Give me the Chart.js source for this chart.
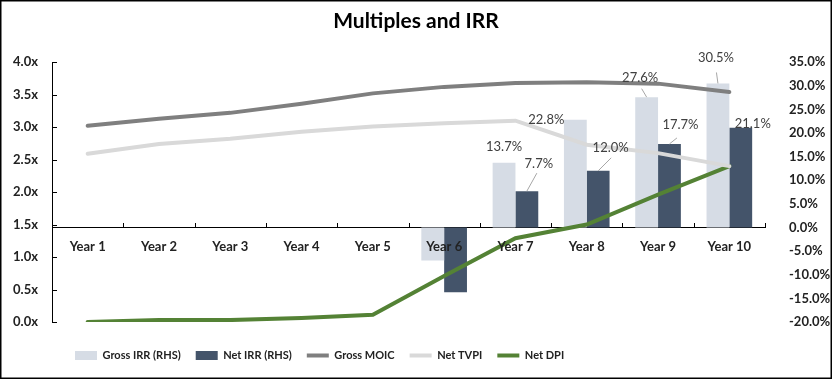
<!DOCTYPE html>
<html><head><meta charset="utf-8">
<script src="https://cdn.jsdelivr.net/npm/chart.js@4"></script>
<style>html,body{margin:0;padding:0;background:#fff}#wrap{width:832px;height:379px;position:relative}</style>
</head><body><div id="wrap"><canvas id="c" width="832" height="379"></canvas></div>
<script>
const years = ['Year 1','Year 2','Year 3','Year 4','Year 5','Year 6','Year 7','Year 8','Year 9','Year 10'];
const grossIRR = [null,null,null,null,null,-7.0,13.7,22.8,27.6,30.5];
const netIRR = [null,null,null,null,null,-13.7,7.7,12.0,17.7,21.1];
const grossMOIC = [3.02,3.13,3.22,3.36,3.52,3.62,3.68,3.69,3.67,3.54];
const netTVPI = [2.59,2.74,2.82,2.93,3.01,3.06,3.10,2.73,2.60,2.40];
const netDPI = [0.00,0.03,0.03,0.06,0.11,0.71,1.29,1.50,1.96,2.40];
const leftTicks = [0,0.5,1,1.5,2,2.5,3,3.5,4];
const rightTicks = [-20,-15,-10,-5,0,5,10,15,20,25,30,35];
const labelledYears = ['Year 7','Year 8','Year 9','Year 10'];

const FONT = 'Lato, "Open Sans", sans-serif';
const C = {gIRR:'#D6DCE5', nIRR:'#44546A', gMOIC:'#7F7F7F', nTVPI:'#D9D9D9', nDPI:'#548235'};

// label placement offsets relative to bar top (style/position, not data)
const labelPlace = [
  {'Year 7':{dx:0,dy:-16}, 'Year 8':{dx:-29,dy:0}, 'Year 9':{dx:-6.5,dy:-19,lead:[-5,-8.5]}, 'Year 10':{dx:-2,dy:-26,lead:[-1.5,-11]}},
  {'Year 7':{dx:12,dy:-27,lead:[10,-18]}, 'Year 8':{dx:12.5,dy:-23,lead:[13,-13]}, 'Year 9':{dx:11,dy:-19,lead:[7.5,-6]}, 'Year 10':{dx:12,dy:-4}}
];
const LEGEND_SHIFT = 60;

const extras = {
  id:'extras',
  afterInit(chart){
    const lg = chart.legend;
    const od = lg.draw.bind(lg);
    lg.draw = function(ca){ const ctx = this.ctx; ctx.save(); ctx.translate(LEGEND_SHIFT,0); od(ca); ctx.restore(); };
  },
  afterDatasetsDraw(chart){
    const ctx = chart.ctx;
    ctx.save();
    ctx.font = '13px ' + FONT;
    ctx.textAlign = 'center';
    ctx.textBaseline = 'middle';
    [0,1].forEach(di=>{
      const meta = chart.getDatasetMeta(di);
      const vals = chart.data.datasets[di].data;
      years.forEach((y,i)=>{
        if(!labelledYears.includes(y)) return;
        const el = meta.data[i];
        const p = labelPlace[di][y];
        if(p.lead){
          ctx.strokeStyle = '#A6A6A6'; ctx.lineWidth = 1;
          ctx.beginPath(); ctx.moveTo(el.x, el.y); ctx.lineTo(el.x+p.lead[0], el.y+p.lead[1]); ctx.stroke();
        }
        ctx.fillStyle = '#404040';
        ctx.fillText(vals[i].toFixed(1)+'%', el.x+p.dx, el.y+p.dy);
      });
    });
    ctx.restore();
  },
  afterDraw(chart){
    const ctx = chart.ctx, ca = chart.chartArea;
    const x = chart.scales.x, yl = chart.scales.y, yr = chart.scales.y1;
    ctx.save();
    ctx.strokeStyle = '#000'; ctx.lineWidth = 1;
    ctx.beginPath();
    leftTicks.forEach(v=>{ const py = Math.round(yl.getPixelForValue(v))+0.5; ctx.moveTo(ca.left, py); ctx.lineTo(ca.left+5, py); });
    const zy = Math.round(yr.getPixelForValue(0));
    for(let i=0;i<years.length;i++){
      const a = x.getPixelForValue(i);
      const b = i<years.length-1 ? x.getPixelForValue(i+1) : a + (a - x.getPixelForValue(i-1));
      const bx = Math.round((a+b)/2)+0.5;
      ctx.moveTo(bx, zy); ctx.lineTo(bx, zy-5);
    }
    ctx.stroke();
    ctx.lineWidth = 1.5;
    ctx.strokeStyle = '#000';
    ctx.strokeRect(0.75,0.75,830.5,377.5);
    ctx.restore();
  }
};

new Chart(document.getElementById('c'), {
  type:'bar',
  data:{
    labels: years,
    datasets:[
      {label:'Gross IRR (RHS)', data:grossIRR, backgroundColor:C.gIRR, yAxisID:'y1', order:2, categoryPercentage:0.64, barPercentage:1},
      {label:'Net IRR (RHS)', data:netIRR, backgroundColor:C.nIRR, yAxisID:'y1', order:2, categoryPercentage:0.64, barPercentage:1},
      {type:'line', label:'Gross MOIC', data:grossMOIC, borderColor:C.gMOIC, backgroundColor:C.gMOIC, borderWidth:4, pointRadius:0, tension:0, yAxisID:'y', order:1, borderCapStyle:'round'},
      {type:'line', label:'Net TVPI', data:netTVPI, borderColor:C.nTVPI, backgroundColor:C.nTVPI, borderWidth:4, pointRadius:0, tension:0, yAxisID:'y', order:1, borderCapStyle:'round'},
      {type:'line', label:'Net DPI', data:netDPI, borderColor:C.nDPI, backgroundColor:C.nDPI, borderWidth:4, pointRadius:0, tension:0, yAxisID:'y', order:1, borderCapStyle:'round'}
    ]
  },
  options:{
    responsive:false, animation:false,
    layout:{padding:{left:0,right:0,top:0,bottom:8}},
    plugins:{
      tooltip:{enabled:false},
      title:{display:true, text:'Multiples and IRR', color:'#000', font:{family:FONT, size:21, weight:'bold'}, padding:{top:9,bottom:28}},
      legend:{
        position:'bottom', align:'start',
        labels:{
          usePointStyle:true, pointStyleWidth:22, boxHeight:9, padding:15,
          color:'#222', font:{family:FONT, size:11, weight:'bold'},
          sort:(a,b)=>a.datasetIndex-b.datasetIndex,
          generateLabels(chart){
            return chart.data.datasets.map((d,i)=>({
              text:d.label, datasetIndex:i,
              fillStyle: d.type==='line' ? d.borderColor : d.backgroundColor,
              strokeStyle: d.type==='line' ? d.borderColor : d.backgroundColor,
              lineWidth: d.type==='line' ? 4 : 0,
              pointStyle: d.type==='line' ? 'line' : 'rect',
              fontColor:'#222', hidden:false
            }));
          }
        }
      }
    },
    scales:{
      x:{
        position:{y1:0},
        grid:{display:false, drawTicks:false, tickLength:0},
        border:{display:true, color:'#000', width:1},
        ticks:{z:1, color:'#222', font:{family:FONT, size:13, weight:'bold'}, padding:11, maxRotation:0, autoSkip:false}
      },
      xpad:{
        type:'category', position:'bottom', display:true,
        grid:{display:false, drawTicks:false}, border:{display:false},
        ticks:{display:false},
        afterFit(s){ s.height = 13; }
      },
      y:{
        position:'left', min:0, max:4,
        grid:{display:false, drawTicks:false, tickLength:0},
        border:{display:true, color:'#000', width:1},
        afterBuildTicks(s){ s.ticks = leftTicks.map(v=>({value:v})); },
        afterFit(s){ s.width = 52; },
        ticks:{color:'#222', font:{family:FONT, size:13, weight:'bold'}, padding:14, callback:v=>Number(v).toFixed(1)+'x'}
      },
      y1:{
        position:'right', min:-20, max:35,
        grid:{display:false, drawTicks:false, tickLength:0},
        border:{display:false},
        afterBuildTicks(s){ s.ticks = rightTicks.map(v=>({value:v})); },
        afterFit(s){ s.width = 67; },
        ticks:{color:'#222', font:{family:FONT, size:13, weight:'bold'}, padding:24, callback:v=>Number(v).toFixed(1)+'%'}
      }
    }
  },
  plugins:[extras]
});
</script></body></html>
